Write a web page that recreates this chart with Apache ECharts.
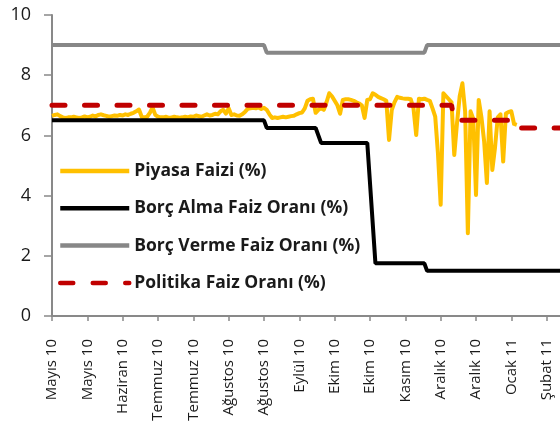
<!DOCTYPE html>
<html>
<head>
<meta charset="utf-8">
<script src="https://cdn.jsdelivr.net/npm/echarts@6/dist/echarts.min.js"></script>
<style>
  html, body { margin: 0; padding: 0; background: #fff; }
  #chart { width: 560px; height: 428px; }
</style>
</head>
<body>
<div id="chart"></div>
<script>
// x ekseni: is gunu sirasi, 13 gunde bir etiket
var xLabels = ['Mayıs 10', 'Mayıs 10', 'Haziran 10', 'Temmuz 10', 'Temmuz 10', 'Ağustos 10', 'Ağustos 10',
  'Eylül 10', 'Ekim 10', 'Ekim 10', 'Kasım 10', 'Aralık 10', 'Aralık 10', 'Ocak 11', 'Şubat 11'];
var labelStep = 13;

// Piyasa faizi, gunluk
var piyasa = [
  6.65, 6.68, 6.7, 6.64, 6.6, 6.58, 6.6, 6.6, 6.62, 6.6,
  6.58, 6.6, 6.63, 6.6, 6.62, 6.66, 6.63, 6.68, 6.7, 6.67,
  6.65, 6.62, 6.64, 6.66, 6.65, 6.68, 6.66, 6.7, 6.68, 6.72,
  6.75, 6.8, 6.86, 6.62, 6.6, 6.62, 6.75, 6.93, 6.68, 6.62,
  6.6, 6.6, 6.62, 6.58, 6.6, 6.62, 6.6, 6.59, 6.6, 6.62,
  6.6, 6.63, 6.62, 6.66, 6.64, 6.62, 6.66, 6.7, 6.66, 6.68,
  6.72, 6.7, 6.8, 6.85, 6.72, 6.9, 6.68, 6.7, 6.66, 6.65,
  6.7, 6.78, 6.88, 6.9, 6.92, 6.9, 6.93, 6.88, 6.92, 6.85,
  6.7, 6.58, 6.6, 6.58, 6.6, 6.62, 6.6, 6.62, 6.64, 6.65,
  6.7, 6.74, 6.76, 6.9, 7.15, 7.2, 7.22, 6.75, 6.85, 6.9,
  6.85, 7.1, 7.4, 7.3, 7.15, 7.0, 6.72, 7.18, 7.2, 7.2,
  7.18, 7.15, 7.1, 7.06, 7.0, 6.58, 7.18, 7.2, 7.4, 7.35,
  7.28, 7.24, 7.2, 7.15, 5.85, 6.84, 7.1, 7.28, 7.25, 7.23,
  7.22, 7.22, 7.2, 6.9, 6.01, 7.22, 7.2, 7.22, 7.18, 7.15,
  6.9, 6.62, 5.4, 3.7, 7.4, 7.3, 7.2, 7.1, 5.35, 6.4,
  7.3, 7.73, 6.8, 2.75, 6.8, 6.55, 4.02, 7.18, 6.6, 5.8,
  4.42, 6.8, 4.85, 5.6, 6.6, 6.7, 5.13, 6.73, 6.78, 6.8,
  6.38, 6.35
];

// TCMB oranlari: [gun, oran]
var borcAlma = [[0, 6.5], [78, 6.5], [79, 6.25], [97, 6.25], [99, 5.75], [116, 5.75], [119, 1.75],
  [137, 1.75], [138, 1.5], [200, 1.5]];
var borcVerme = [[0, 9], [78, 9], [79, 8.75], [137, 8.75], [138, 9], [200, 9]];
var politika = [[0, 7], [147, 7], [148, 6.5], [170, 6.5], [171, 6.25], [200, 6.25]];

var yTicks = { min: 0, max: 10, interval: 2 };

var FONT = '"Open Sans", "Noto Sans", sans-serif';
var axisGray = '#898989';

var chart = echarts.init(document.getElementById('chart'));
var option = {
  animation: false,
  grid: {
    left: 52, right: -22, top: 15, bottom: 112,
    containLabel: false,
    outerBoundsMode: 'none'
  },
  legend: {
    orient: 'vertical',
    left: 58, top: 161,
    padding: 0,
    itemWidth: 69, itemHeight: 20, itemGap: 17.3,
    selectedMode: false,
    itemStyle: { opacity: 0 },
    lineStyle: { width: 4.5 },
    textStyle: { fontFamily: FONT, fontSize: 17.5, fontWeight: 'bold', color: '#1a1a1a', lineHeight: 20 },
    data: ['Piyasa Faizi (%)', 'Borç Alma Faiz Oranı (%)', 'Borç Verme Faiz Oranı (%)', 'Politika Faiz Oranı (%)']
  },
  xAxis: {
    type: 'value',
    min: 0, max: labelStep * 15, interval: labelStep,
    axisLine: { lineStyle: { color: axisGray, width: 2 } },
    axisTick: { show: true, length: 5, lineStyle: { color: axisGray, width: 1.5 } },
    splitLine: { show: false },
    axisLabel: {
      rotate: 90, margin: 23,
      fontFamily: FONT, fontSize: 15, color: '#1a1a1a',
      formatter: function (v) { return xLabels[Math.round(v / labelStep)] || ''; }
    }
  },
  yAxis: {
    type: 'value',
    min: yTicks.min, max: yTicks.max, interval: yTicks.interval,
    axisLine: { show: true, lineStyle: { color: axisGray, width: 2 } },
    axisTick: { show: true, length: 8, lineStyle: { color: axisGray, width: 1.5 } },
    splitLine: { show: false },
    axisLabel: { margin: 21, fontFamily: FONT, fontSize: 18, color: '#1a1a1a' }
  },
  series: [
    {
      name: 'Piyasa Faizi (%)', type: 'line', symbol: 'none',
      data: piyasa.map(function (v, i) { return [i, v]; }),
      lineStyle: { color: '#FFC000', width: 4, join: 'round' },
      itemStyle: { color: '#FFC000' }
    },
    {
      name: 'Borç Alma Faiz Oranı (%)', type: 'line', symbol: 'none',
      data: borcAlma,
      lineStyle: { color: '#000000', width: 4 },
      itemStyle: { color: '#000000' }
    },
    {
      name: 'Borç Verme Faiz Oranı (%)', type: 'line', symbol: 'none',
      data: borcVerme,
      lineStyle: { color: '#878787', width: 4 },
      itemStyle: { color: '#878787' }
    },
    {
      name: 'Politika Faiz Oranı (%)', type: 'line', symbol: 'none',
      data: politika,
      lineStyle: { color: '#C00000', width: 5, type: [13, 19.5], cap: 'round' },
      itemStyle: { color: '#C00000' }
    }
  ]
};
chart.setOption(option);
</script>
</body>
</html>
